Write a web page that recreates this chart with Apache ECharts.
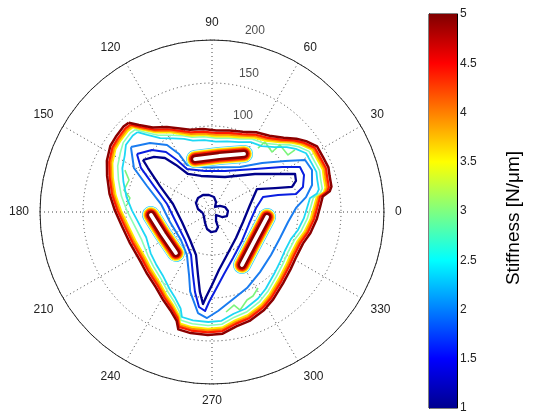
<!DOCTYPE html>
<html>
<head>
<meta charset="utf-8">
<script src="https://cdn.jsdelivr.net/npm/echarts@6/dist/echarts.min.js"></script>
<style>
  html, body { margin: 0; padding: 0; background: #fff; }
  #chart { width: 536px; height: 414px; }
</style>
</head>
<body>
<div id="chart"></div>
<script>
// polar axis ticks
const angleTicks = [0, 30, 60, 90, 120, 150, 180, 210, 240, 270, 300, 330];
const radialLabels = [100, 150, 200];

// outer rim of the stiffness map, angles (deg) and radius per contour level
const outerAngles = [133,130,125,118,111,105,96,87,78,69,61,53,46,41,37,32,26,21,17,12,10,8,3,356,348,341,332,324,315,305,298,289,282,275,268,260,254,252,247,241,233,223,214,201,189,179,170,161,154,147,142,136];
const r50 = [142,132,120,112,104,99,97,95,97,100,106,111,120,130,137,144,144,145,143,142,139,130,126,122,117,112,111,113,117,124,129,134,136,142,143,143,142,133,124,117,109,104,101,102,106,113,121,129,136,141,142,143];
const r45 = [139,129,117,109,101,96,94,92,94,97,103,108,117,127,134,141,141,142,140,139,136,127,123,119,114,109,108,110,114,121,126,131,133,139,140,140,139,130,121,114,106,101,98,99,103,110,118,126,133,138,139,140];
const r40 = [137,127,115,107,99,94,92,90,92,95,101,106,115,125,132,139,139,140,138,137,134,125,121,117,112,107,106,108,112,119,124,129,131,137,138,138,137,128,119,112,104,99,96,97,101,108,116,124,131,136,137,138];
const r35 = [135,125,113,105,97,92,90,88,90,93,99,104,113,123,130,137,137,138,136,135,132,123,119,115,110,105,104,106,110,117,122,127,129,135,136,136,135,126,117,110,102,97,94,95,99,106,114,122,129,134,135,136];
const r30 = [131,121,109,101,95,90,88,86,88,91,97,100,109,119,126,133,133,134,132,131,128,119,115,111,106,101,100,102,106,113,118,123,125,131,132,132,131,122,113,106,98,93,90,88,92,99,107,115,122,127,131,132];
const r25 = [127,117,105,97,91,86,84,82,84,87,93,96,105,115,122,129,129,130,128,127,124,115,111,107,102,97,96,98,102,109,114,119,121,127,128,128,127,118,109,102,94,89,86,82,86,93,101,109,116,121,127,128];

// inner contours, [radius, angle]
const c20 = [[120.8,141.3],[107.9,132],[93.8,123.9],[77.6,119.6],[61.9,118],[52.4,98.9],[61.6,58.1],[81.5,44.4],[103.6,34.9],[124,29.2],[126.1,22.8],[120.5,15.1],[110.7,9],[97.8,2.8],[89.2,352.5],[84.7,339.1],[84.9,323.9],[89.4,308.6],[97.3,294.7],[104.9,282.8],[115.3,273.5],[123.4,267.3],[118.6,262.1],[96.1,254.7],[78,250],[57.9,239.8],[48.6,222.1],[50.2,193.4],[60,171.1],[81.4,158.2],[104.2,150.6]];
const c15 = [[110.3,142.3],[100.4,134.1],[87.9,127.5],[72.9,123.9],[57.9,120.2],[48.4,99.6],[50,72.4],[70.7,45],[96.8,32.7],[114.9,27.1],[115.3,21.9],[109.7,15.4],[99.9,12.1],[79.3,14.5],[61.8,16.4],[51.4,5.2],[45.2,342],[48.5,316],[58.8,294.5],[73.4,281],[89.7,273],[104.7,268.1],[115.4,266],[111.5,262.2],[95.1,258],[76.6,253.2],[55.6,244],[45.3,226.1],[43.5,195.5],[53.1,169.9],[73.9,155.9],[97.2,148.2]];
const c10 = [[100.5,143],[93,136.5],[83.3,131.1],[68.9,127.4],[52.3,122.3],[43.8,107],[43.4,69.6],[66.7,41.5],[92.6,28.5],[106.2,24.6],[104.1,20.3],[97.5,17.4],[78.4,20.8],[58.7,27],[44.9,10.4],[37.9,342.2],[41.1,312.7],[52.9,289.2],[68,276.8],[84.9,270],[99.1,266],[107.5,264.4],[94.1,261.4],[75.1,257.5],[53.3,249.6],[41.4,231.9],[36.8,198.4],[46.3,168.4],[67.6,153.5],[90.3,145.5]];
const trefoil = [[10.6,186.5],[16.7,167.9],[21.4,150.6],[23,135],[22.4,117.9],[20.1,100],[17.6,82.5],[12.5,68],[6.8,59.1],[11.6,37],[16.2,21],[18.6,3.7],[18,344.9],[13,333.4],[5.9,323.3],[11.5,294.1],[18.8,291.9],[22.6,282],[23.3,267.1],[20.6,253.7],[15.1,237.7],[11,212]];

// level 3 fragments
const sq1 = [[112.4,154.3],[103.4,158.9],[105.5,166],[96.8,170.3],[99.2,175.3]];
const sq2 = [[91.6,54.3],[102.1,52.9],[98.7,45],[111,44.6],[110.5,36.9],[120.5,36.8]];
const sq3 = [[117.4,278],[111.2,283.3],[118.6,286],[110.1,291.7],[108.7,296],[103.3,301.2]];

// high stiffness islands (ridge axis), [radius, angle]
const islandTop = [[64.7,107.8],[65.6,82.9],[77.1,61.1]];
const islandLeft = [[71,182.8],[62.5,204.2],[63.5,228.7]];
const islandRight = [[64.3,354.8],[59.8,325.7],[70.8,299.5]];

// colorbar
const cbMin = 1;
const cbMax = 5;

const closed = pts => pts.concat([pts[0]]);
const rim = radii => closed(radii.map((r, i) => [r, outerAngles[i]]));

function contour(data, color, width) {
    return {
        type: 'line',
        coordinateSystem: 'polar',
        data: data,
        symbol: 'none',
        silent: true,
        smooth: false,
        lineStyle: { color: color, width: width, join: 'round' },
        z: 3
    };
}

const series = [
    contour(rim(r30), '#8cffb4', 1.6),
    contour(sq1, '#7cf57c', 1.6),
    contour(sq2, '#7cf57c', 1.6),
    contour(sq3, '#7cf57c', 1.6),
    contour(rim(r25), '#1ed8f5', 1.8),
    contour(closed(c20), '#1a7cf0', 2),
    contour(closed(c15), '#0a1ee0', 2),
    contour(closed(c10), '#00008a', 2.3),
    contour(closed(trefoil), '#00008a', 2.3),
    contour(rim(r35), '#ffee00', 2.2),
    contour(rim(r40), '#ff8c00', 2.2),
    contour(rim(r45), '#ff1a00', 2.2),
    contour(rim(r50), '#8b0000', 2.5)
];

// each island is a ridge, drawn as nested bands
const islandBands = [['#3fd6f2', 18], ['#ffffff', 16.5], ['#ffee00', 15.5], ['#ff8c00', 13.5], ['#ff1a00', 11.5], ['#8b0000', 9], ['#ffffff', 3.8]];
[islandTop, islandLeft, islandRight].forEach(isl => {
    islandBands.forEach(([color, w]) => {
        const s = contour(isl, color, w);
        s.lineStyle.cap = 'round';
        s.z = 4;
        series.push(s);
    });
});

series.push({
    type: 'scatter',
    coordinateSystem: 'polar',
    data: radialLabels.map(v => [v, 82]),
    symbolSize: 0,
    silent: true,
    z: 6,
    label: {
        show: true,
        position: 'inside',
        offset: [19, -11],
        formatter: p => p.value[0],
        color: '#222',
        fontSize: 12,
        fontFamily: 'Liberation Sans'
    }
});

series.push({
    type: 'bar', xAxisIndex: 0, yAxisIndex: 0, stack: 'cb',
    data: [cbMin], barWidth: '100%', silent: true,
    itemStyle: { color: 'rgba(0,0,0,0)' }
});
series.push({
    type: 'bar', xAxisIndex: 0, yAxisIndex: 0, stack: 'cb',
    data: [cbMax - cbMin], barWidth: '100%', silent: true,
    itemStyle: {
        color: new echarts.graphic.LinearGradient(0, 0, 0, 1, [
            { offset: 0, color: '#800000' },
            { offset: 0.125, color: '#ff0000' },
            { offset: 0.375, color: '#ffff00' },
            { offset: 0.625, color: '#00ffff' },
            { offset: 0.875, color: '#0000ff' },
            { offset: 1, color: '#00008f' }
        ])
    }
});

const chart = echarts.init(document.getElementById('chart'), null, { renderer: 'canvas' });

chart.setOption({
    animation: false,
    backgroundColor: '#fff',
    polar: { center: [212, 212], radius: 172 },
    angleAxis: {
        type: 'value',
        min: 0,
        max: 360,
        interval: 30,
        startAngle: 0,
        clockwise: false,
        axisLine: { lineStyle: { color: '#222', width: 1 } },
        axisTick: { show: false },
        axisLabel: {
            margin: 11,
            color: '#222',
            fontSize: 12,
            fontFamily: 'Liberation Sans',
            formatter: v => (angleTicks.includes(v) ? String(v) : '')
        },
        splitLine: { lineStyle: { color: '#444', width: 1, type: [1, 3] } }
    },
    radiusAxis: {
        min: 0,
        max: 200,
        interval: 50,
        axisLine: { show: false },
        axisTick: { show: false },
        axisLabel: { show: false },
        splitLine: { lineStyle: { color: '#444', width: 1, type: [1, 3] } }
    },
    grid: {
        left: 429, top: 14, width: 28, height: 397,
        show: true, borderColor: '#000', borderWidth: 1, backgroundColor: 'transparent'
    },
    xAxis: { type: 'category', data: [''], show: false },
    yAxis: [{
        type: 'value',
        min: cbMin,
        max: cbMax,
        interval: 0.5,
        position: 'right',
        axisLine: { show: true, lineStyle: { color: '#000' } },
        axisTick: { inside: true, length: 4, lineStyle: { color: '#000' } },
        axisLabel: { margin: 3, color: '#222', fontSize: 12, fontFamily: 'Liberation Sans' },
        splitLine: { show: false },
        name: 'Stiffness [N/\u03bcm]',
        nameLocation: 'middle',
        nameRotate: 90,
        nameGap: 47,
        nameTextStyle: { fontSize: 19, color: '#000', fontFamily: 'Liberation Sans', padding: [0, 14, 0, 0] }
    }, {
        type: 'value',
        min: cbMin,
        max: cbMax,
        interval: 0.5,
        position: 'left',
        axisLine: { show: true, lineStyle: { color: '#000' } },
        axisTick: { inside: true, length: 4, lineStyle: { color: '#000' } },
        axisLabel: { show: false },
        splitLine: { show: false }
    }],
    series: series
});
</script>
</body>
</html>
